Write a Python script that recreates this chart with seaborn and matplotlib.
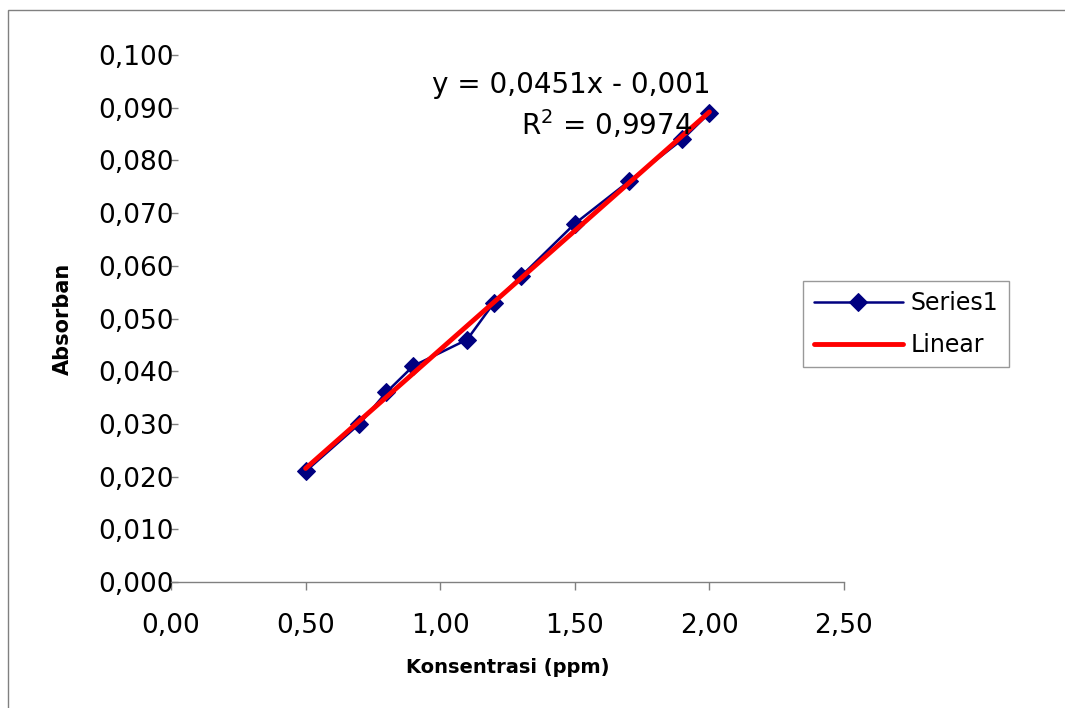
import numpy as np
import pandas as pd
import matplotlib
matplotlib.use("Agg")
import matplotlib.pyplot as plt
from matplotlib.patches import Rectangle
from matplotlib.ticker import FuncFormatter
import seaborn as sns

# Data
konsentrasi = [0.50, 0.70, 0.80, 0.90, 1.10, 1.20, 1.30, 1.50, 1.70, 1.90, 2.00]
absorban = [0.021, 0.030, 0.036, 0.041, 0.046, 0.053, 0.058, 0.068, 0.076, 0.084, 0.089]
slope = 0.0451
intercept = -0.001
r_squared = 0.9974

df = pd.DataFrame({"x": konsentrasi, "y": absorban})
fit_x = np.array([min(konsentrasi), max(konsentrasi)])
fit = pd.DataFrame({"x": fit_x, "y": slope * fit_x + intercept})

sns.set_style("white")
plt.rcParams["font.family"] = ["DejaVu Sans"]
plt.rcParams["text.color"] = "black"
plt.rcParams["axes.labelcolor"] = "black"
plt.rcParams["xtick.labelcolor"] = "black"
plt.rcParams["ytick.labelcolor"] = "black"

fig = plt.figure(figsize=(10.65, 7.08), dpi=100)
ax = fig.add_axes([171 / 1065, 1 - 582 / 708, (844 - 171) / 1065, (582 - 55) / 708])

sns.lineplot(data=df, x="x", y="y", ax=ax, color="#000080", linewidth=1.8,
             marker="D", markersize=9, markeredgecolor="#000080",
             label="Series1", zorder=2)
sns.lineplot(data=fit, x="x", y="y", ax=ax, color="#ff0000", linewidth=3.5,
             label="Linear", zorder=3)

ax.set_xlim(0, 2.5)
ax.set_ylim(0, 0.1)
ax.set_xticks(np.arange(0, 2.51, 0.5))
ax.set_yticks(np.arange(0, 0.1001, 0.01))
ax.xaxis.set_major_formatter(FuncFormatter(lambda v, p: f"{v:.2f}".replace(".", ",")))
ax.yaxis.set_major_formatter(FuncFormatter(lambda v, p: f"{v:.3f}".replace(".", ",")))

for side in ["top", "right", "left"]:
    ax.spines[side].set_visible(False)
ax.spines["bottom"].set_color("#808080")
ax.spines["bottom"].set_linewidth(1)

ax.tick_params(axis="x", direction="out", length=6, width=1, color="#808080",
               pad=16, labelsize=19, bottom=True)
ax.tick_params(axis="y", direction="in", length=5, width=1, color="#808080",
               pad=-2, labelsize=19, left=True)

ax.set_xlabel("Konsentrasi (ppm)", fontsize=14, fontweight="bold", labelpad=14)
ax.set_ylabel("Absorban", fontsize=15, fontweight="bold", labelpad=18)

leg = ax.legend(loc="center left", bbox_to_anchor=(803 / 1065, 1 - 324 / 708),
                bbox_transform=fig.transFigure, fontsize=17, frameon=True,
                fancybox=False, edgecolor="#808080", handlelength=3.8,
                borderpad=0.45, labelspacing=0.75, handletextpad=0.3,
                borderaxespad=0)
leg.get_frame().set_linewidth(1)

fig.text(571 / 1065, 1 - 85 / 708, "y = 0,0451x - 0,001", fontsize=20,
         ha="center", va="center")
fig.text(607 / 1065, 1 - 125 / 708, f"R$^2$ = {r_squared:.4f}".replace(".", ","),
         fontsize=20, ha="center", va="center")

fig.add_artist(Rectangle((8 / 1065, -0.01), 1.0, 1 - 10 / 708 + 0.01,
                         transform=fig.transFigure, fill=False,
                         edgecolor="#808080", linewidth=1))

fig.savefig("out.png", dpi=100)
